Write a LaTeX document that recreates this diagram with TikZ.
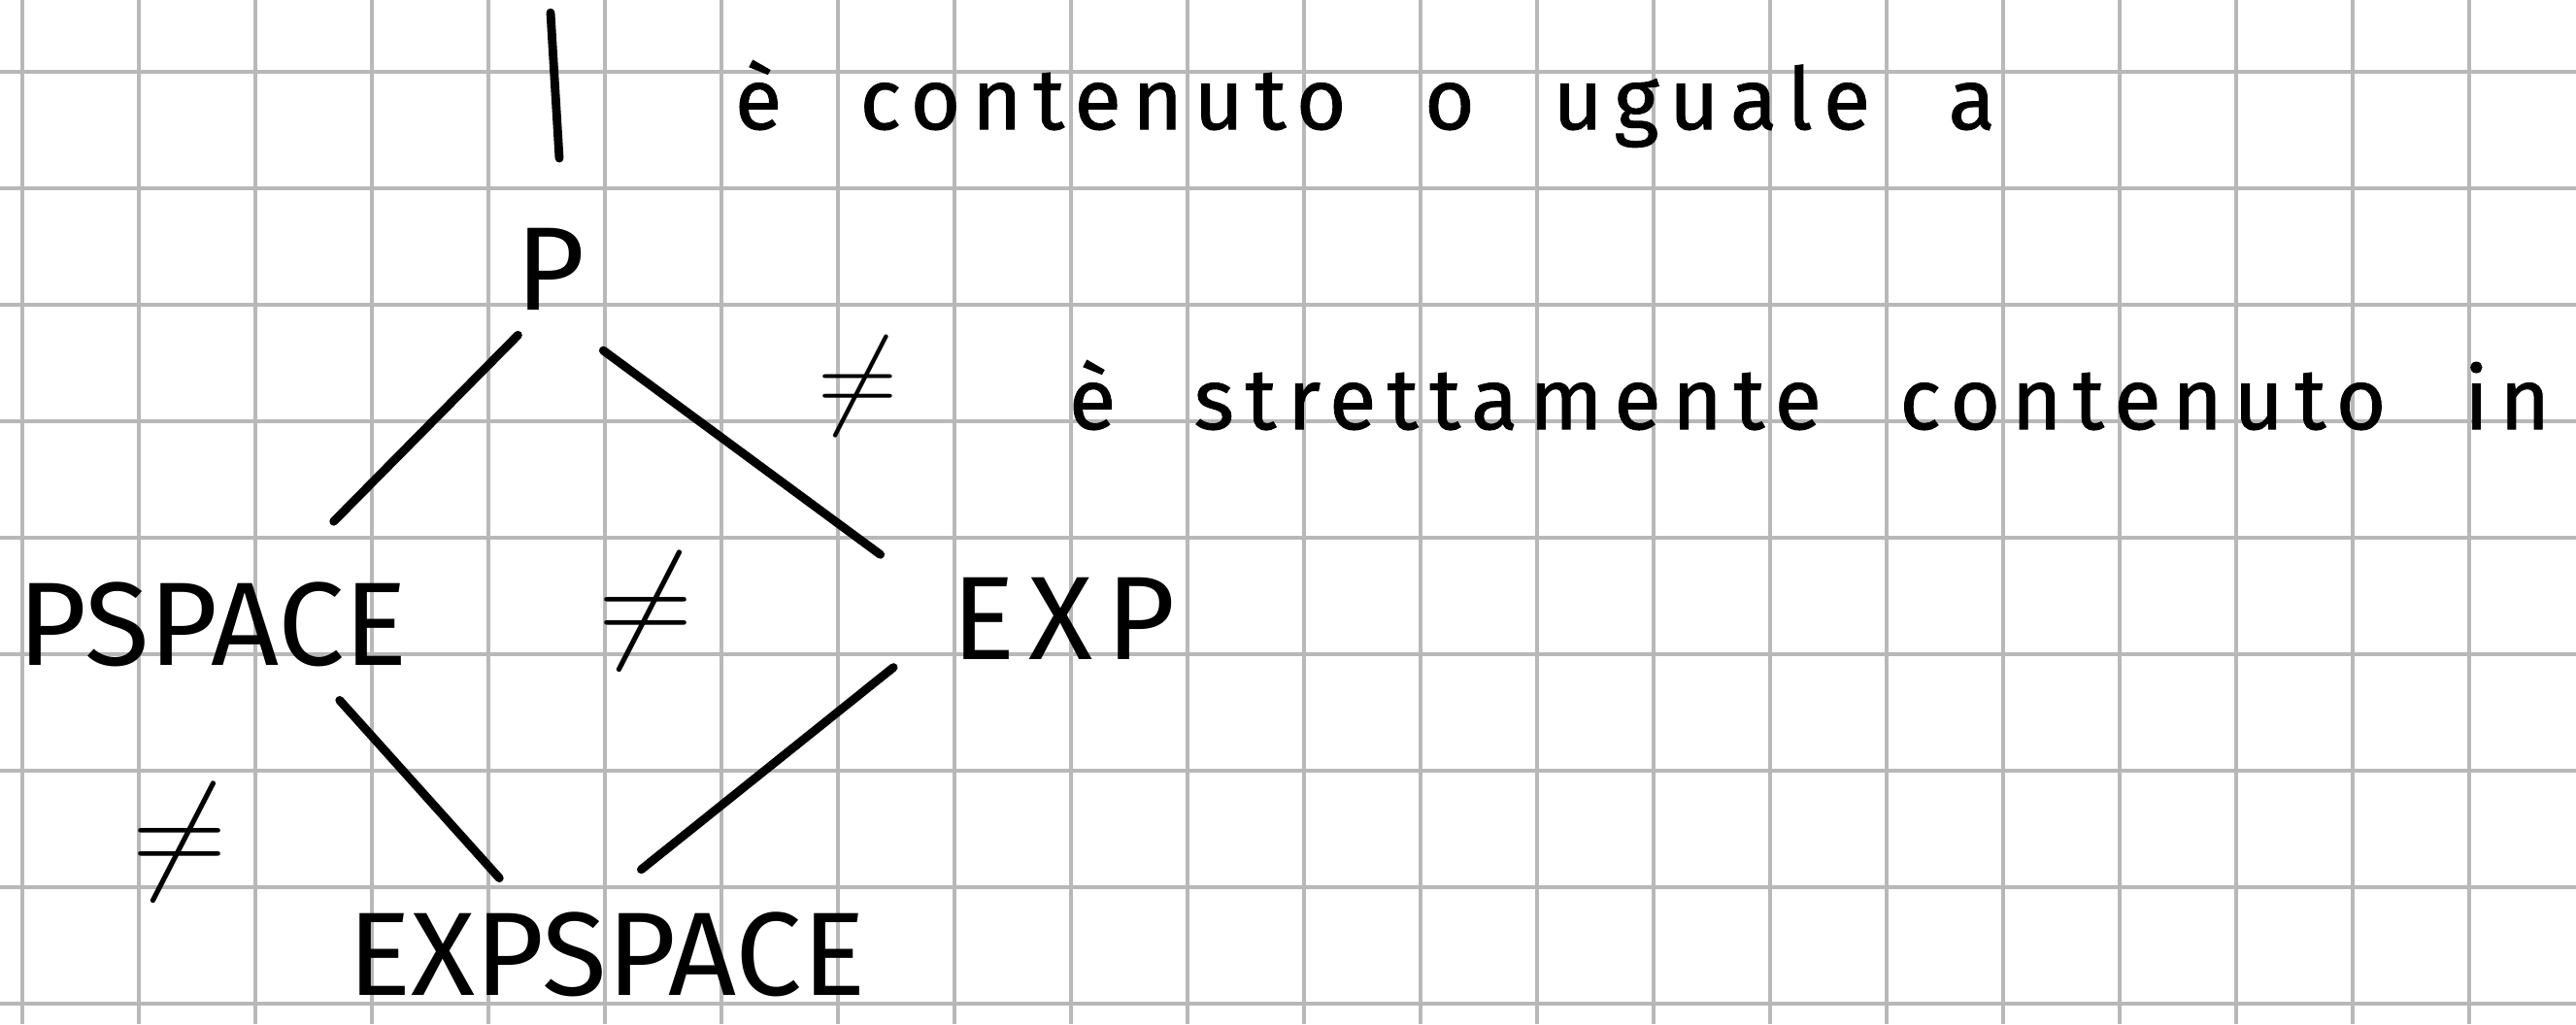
\RequirePackage{fix-cm}
\documentclass[tikz,border=0pt]{standalone}
\usepackage{fontspec}
\setmainfont{Fira Sans}
\newfontfamily\handfont[LetterSpace=13.0,WordSpace=2.3,FakeBold=1]{Fira Sans}
\definecolor{gridgray}{RGB}{184,184,184}

\begin{document}
\begin{tikzpicture}[
    grid line/.style={gridgray, line width=1.1pt},
    pen/.style={black, line width=2.1pt, line cap=round},
    cls/.style={inner sep=0pt, font=\fontsize{29}{32}\selectfont},
    neq/.style={inner sep=0pt, font=\fontsize{32}{34}\selectfont},
    legtext/.style={anchor=base west, inner sep=0pt, font=\handfont\fontsize{21}{24}\selectfont}
]
% ---- 背景与边界 ----
\fill[white] (0,0) rectangle (22.108,8.792);
\useasboundingbox (0,0) rectangle (22.108,8.792);

% ---- 方格纸 ----
\foreach \gx in {0,...,21}
    \draw[grid line] ({0.1917+\gx},0) -- ({0.1917+\gx},8.792);
\foreach \gy in {0,...,8}
    \draw[grid line] (0,{0.175+\gy}) -- (22.108,{0.175+\gy});

% ---- 复杂度类 ----
\node[cls] (P)        at (4.725,6.479) {P};
\node[cls] (PSPACE)   at (1.829,3.433) {PSPACE};
\node[cls] (EXP)      at (9.13,3.479) {\addfontfeature{LetterSpace=11}EXP};
\node[cls] (EXPSPACE) at (5.208,0.6) {EXPSPACE};

% ---- 包含关系 ----
\draw[pen, shorten <=0.29cm, shorten >=0.72cm] (P.258) -- (PSPACE.35);
\draw[pen, shorten <=0.57cm, shorten >=0.76cm] (P.269) -- (EXP.174);
\draw[pen, shorten <=0.38cm, shorten >=0.38cm] (PSPACE.336) -- (EXPSPACE.151);
\draw[pen, shorten <=0.64cm, shorten >=0.57cm] (EXP.181) -- (EXPSPACE.112);

% ---- 严格包含标记 ----
\node[neq] (neqMid) at (5.542,3.542) {$\neq$};
\node[neq] (neqLow) at (1.542,1.558) {$\neq$};

% ---- 图例 ----
\coordinate (barTop) at (4.725,8.683);
\coordinate (barBot) at (4.8,7.433);
\draw[pen] (barTop) -- (barBot);
\node[legtext] (keyLe) at (6.3,7.683) {è contenuto o uguale a};

\node[neq, font=\fontsize{27}{29}\selectfont] (neqKey) at (7.358,5.475) {$\neq$};
\node[legtext] (keyLt) at (9.167,5.108) {è strettamente contenuto in};
\end{tikzpicture}
\end{document}
